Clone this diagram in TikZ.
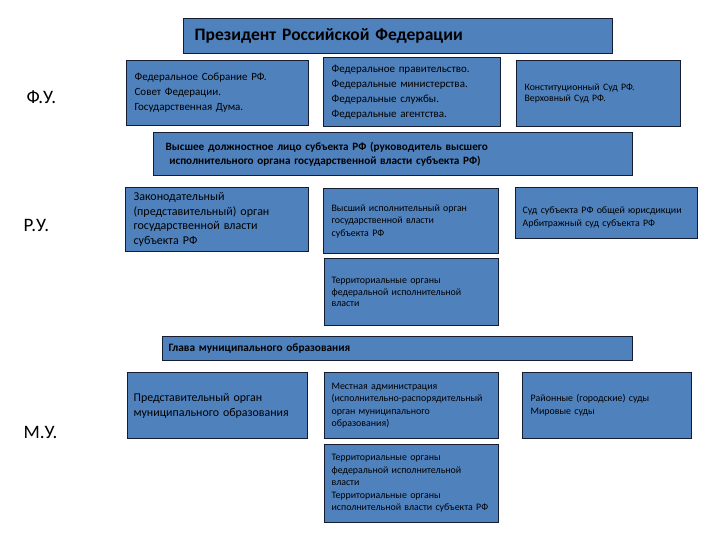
\documentclass[tikz,border=0pt]{standalone}
\usepackage{fontspec}
\setmainfont{Carlito}
\definecolor{steel}{RGB}{79,129,189}
\definecolor{inkblue}{RGB}{22,28,48}
\tikzset{
    organ/.style={draw=inkblue, fill=steel, line width=1.2pt, anchor=north west,
        align=left, inner xsep=8pt, inner ysep=0pt, text=black},
    uroven/.style={anchor=west, text=black, font={\fontsize{19}{21}\selectfont}},
    krupno/.style={font={\fontsize{11}{15}\selectfont}},
    sredne/.style={font={\fontsize{12}{14.5}\selectfont}},
    melko/.style={font={\fontsize{9.9}{12.5}\selectfont}},
    sudy/.style={font={\fontsize{9.9}{13}\selectfont}},
    zhirno/.style={font={\fontsize{11.2}{14}\selectfont\bfseries}},
}

\begin{document}
\begin{tikzpicture}[x=1pt, y=-1pt]
\useasboundingbox (0,0) rectangle (720,540);

\node[organ, inner xsep=11pt, text width=407pt, minimum height=35pt,
    font={\fontsize{17.5}{19}\selectfont\bfseries}] (prez) at (183,18) {Президент Российской Федерации};

\node[organ, krupno, text width=166pt, minimum height=65pt] (sobr) at (126,60)
    {Федеральное Собрание РФ.\\Совет Федерации.\\Государственная Дума.};
\node[organ, krupno, text width=161pt, minimum height=69pt] (prav) at (323,57)
    {Федеральное правительство.\\Федеральные министерства.\\Федеральные службы.\\Федеральные агентства.};
\node[organ, font={\fontsize{9.8}{11.5}\selectfont}, text width=148pt, minimum height=66pt] (ksud) at (516,60)
    {Конституционный Суд РФ.\\Верховный Суд РФ.};

\node[organ, zhirno, inner xsep=12pt, text width=455pt, minimum height=43pt] (vdl) at (153,132)
    {Высшее должностное лицо субъекта РФ (руководитель высшего\\
    \ исполнительного органа государственной власти субъекта РФ)};

\node[organ, sredne, text width=167pt, minimum height=64pt] (zsob) at (125,187)
    {Законодательный\\(представительный) орган\\государственной власти\\субъекта РФ};
\node[organ, melko, text width=159pt, minimum height=65pt] (vio) at (323,188)
    {Высший исполнительный орган\\государственной власти\\субъекта РФ};
\node[organ, sudy, inner xsep=7pt, text width=168pt, minimum height=51pt] (ssub) at (515,187)
    {\rule{0pt}{16pt}Суд субъекта РФ общей юрисдикции\\Арбитражный суд субъекта РФ};
\node[organ, font={\fontsize{9.9}{11.5}\selectfont}, inner xsep=7pt, text width=160pt, minimum height=67pt] (terf) at (324,258)
    {Территориальные органы\\федеральной исполнительной\\власти};

\node[organ, font={\fontsize{11.3}{12}\selectfont\bfseries}, inner xsep=6pt, text width=458pt, minimum height=24pt] (glava) at (162,336)
    {Глава муниципального образования};

\node[organ, font={\fontsize{11.9}{15}\selectfont}, inner xsep=6pt, text width=168pt, minimum height=66pt] (prmo) at (127,372)
    {Представительный орган\\муниципального образования};
\node[organ, font={\fontsize{9.9}{12.4}\selectfont}, inner xsep=7pt, text width=160pt, minimum height=66pt] (madm) at (324,372)
    {Местная администрация\\(исполнительно-распорядительный\\орган муниципального\\образования)};
\node[organ, sudy, text width=153pt, minimum height=66pt] (rsud) at (522,372)
    {Районные (городские) суды\\Мировые суды};
\node[organ, melko, inner xsep=7pt, text width=160pt, minimum height=78pt] (term) at (324,444)
    {Территориальные органы\\федеральной исполнительной\\власти\\Территориальные органы\\исполнительной власти субъекта РФ};

\node[uroven] (fu) at (23,97) {Ф.У.};
\node[uroven] (ru) at (20,225) {Р.У.};
\node[uroven] (mu) at (20,432) {М.У.};

\end{tikzpicture}
\end{document}
